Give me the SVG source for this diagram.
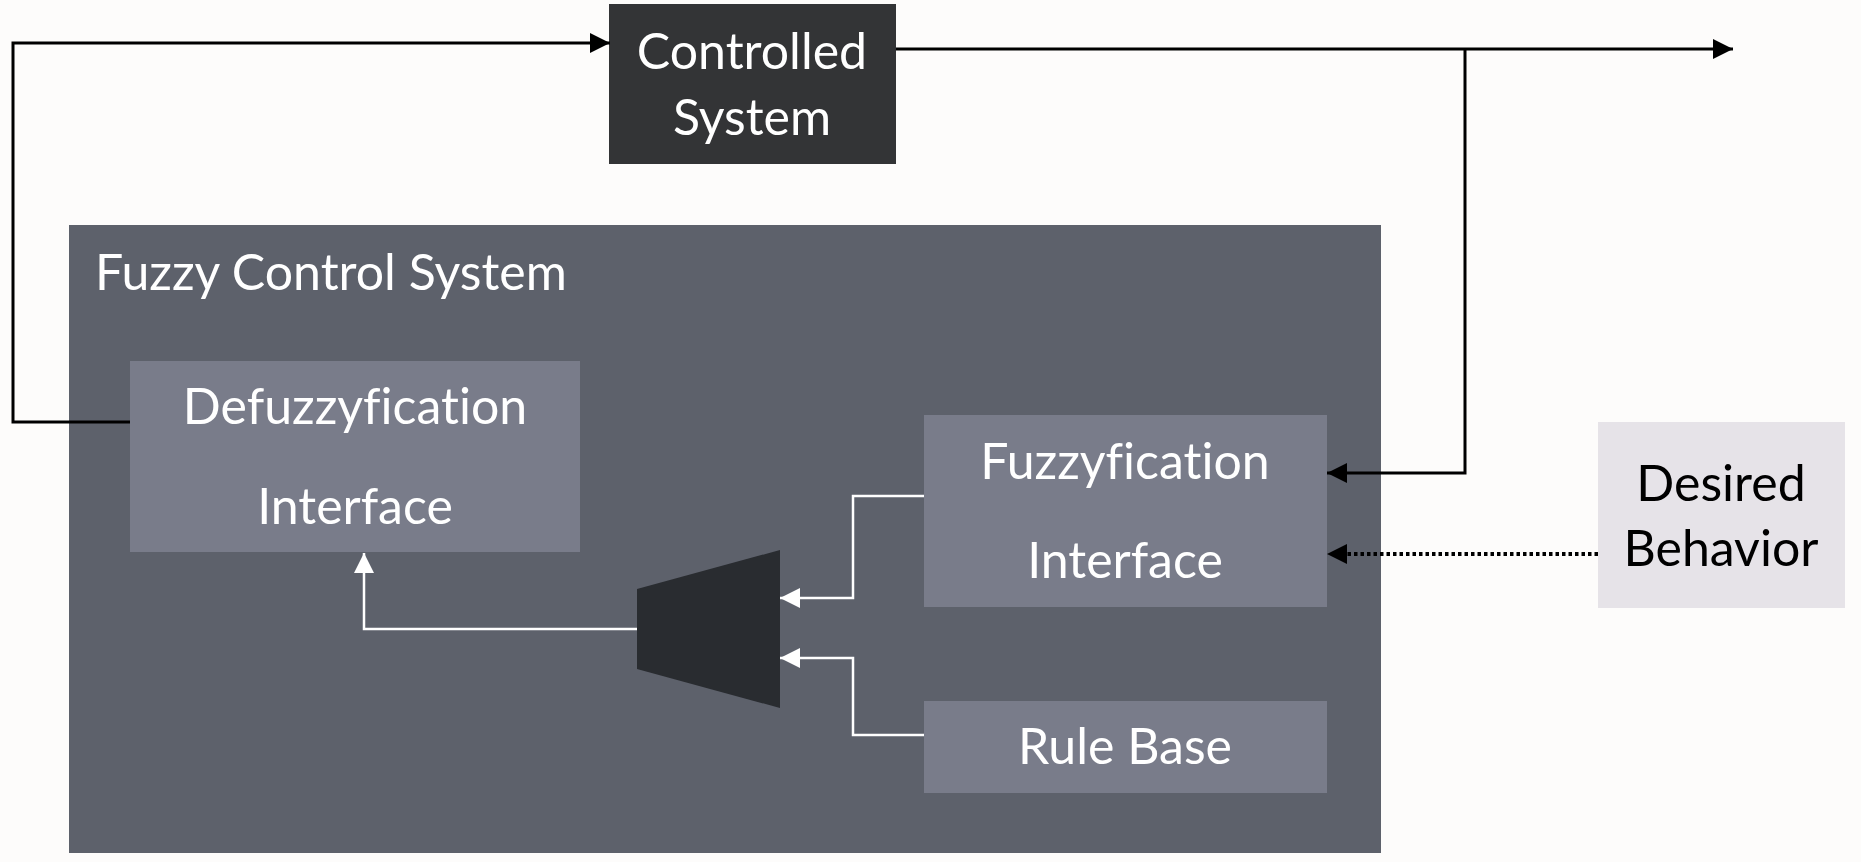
<svg xmlns="http://www.w3.org/2000/svg" width="1861" height="862" viewBox="0 0 1861 862">
  <defs>
    <marker id="ahB" markerUnits="userSpaceOnUse" markerWidth="20" markerHeight="20" refX="20" refY="10" orient="auto">
      <path d="M0,0 L20,10 L0,20 z" fill="#000"/>
    </marker>
    <marker id="ahW" markerUnits="userSpaceOnUse" markerWidth="20" markerHeight="20" refX="20" refY="10" orient="auto">
      <path d="M0,0 L20,10 L0,20 z" fill="#fff"/>
    </marker>
    <style>
      text { font-family: Lato, "Liberation Sans", sans-serif; font-size: 50px; text-anchor: middle; font-variant-ligatures: none; font-feature-settings: "liga" 0; }
      .w { fill: #ffffff; }
      .k { fill: #000000; }
      .inner { fill: #797c8a; }
      .blk { fill: none; stroke: #000; stroke-width: 3; }
      .wht { fill: none; stroke: #fff; stroke-width: 2.5; }
      .dot { fill: none; stroke: #000; stroke-width: 4; stroke-dasharray: 3.5 3; }
    </style>
  </defs>
  <rect x="0" y="0" width="1861" height="862" fill="#fdfcfb"/>

  <g id="fuzzy-control-system">
    <rect x="69" y="225" width="1312" height="628" fill="#5d616b"/>
    <text class="w" x="95" y="290" style="text-anchor:start">Fuzzy Control System</text>
  </g>

  <g id="controlled-system">
    <rect x="609" y="4" width="287" height="160" fill="#333436"/>
    <text class="w" x="752" y="69">Controlled</text>
    <text class="w" x="752" y="135">System</text>
  </g>

  <g id="defuzzyfication">
    <rect class="inner" x="130" y="361" width="450" height="191"/>
    <text class="w" x="355" y="424">Defuzzyfication</text>
    <text class="w" x="355" y="524">Interface</text>
  </g>

  <g id="fuzzyfication">
    <rect class="inner" x="924" y="415" width="403" height="192"/>
    <text class="w" x="1125" y="479">Fuzzyfication</text>
    <text class="w" x="1125" y="578">Interface</text>
  </g>

  <g id="rule-base">
    <rect class="inner" x="924" y="701" width="403" height="92"/>
    <text class="w" x="1125" y="764">Rule Base</text>
  </g>

  <g id="inference">
    <polygon points="637,589 780,550 780,708 637,669" fill="#292c30"/>
  </g>

  <g id="desired-behavior">
    <rect x="1598" y="422" width="247" height="186" fill="#e6e3e8"/>
    <text class="k" x="1721" y="501">Desired</text>
    <text class="k" x="1721" y="566">Behavior</text>
  </g>

  <g id="connectors">
    <path class="blk" d="M130,422 H13 V43 H610" marker-end="url(#ahB)"/>
    <path class="blk" d="M896,49 H1733" marker-end="url(#ahB)"/>
    <path class="blk" d="M1465,49 V473 H1327" marker-end="url(#ahB)"/>
    <path class="dot" d="M1598,554 H1345"/>
    <path d="M1327,554 L1347,544 L1347,564 z" fill="#000"/>
    <path class="wht" d="M924,496 H853 V598 H780" marker-end="url(#ahW)"/>
    <path class="wht" d="M924,735 H853 V658 H780" marker-end="url(#ahW)"/>
    <path class="wht" d="M637,629 H364 V553" marker-end="url(#ahW)"/>
  </g>
</svg>
